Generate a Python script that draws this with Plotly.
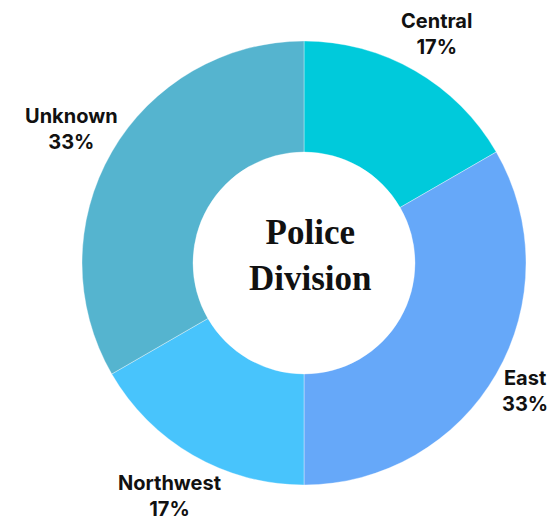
import math
import plotly.graph_objects as go

# Police division breakdown
divisions = ["Central", "East", "Northwest", "Unknown"]
counts = [1, 2, 1, 2]
colors = ["#00CADB", "#66A8F9", "#48C4FC", "#55B4CF"]

W, H = 557, 520
cx, cy, r = 304, 263, 222          # donut centre (px from top-left) and outer radius
label_size = 20
char_w, half_h, pad = 10.5, 24, 3  # rough text-box metrics for placing outside labels

fig = go.Figure(
    go.Pie(
        labels=divisions,
        values=counts,
        sort=False,
        direction="clockwise",
        rotation=0,
        hole=0.5,
        marker=dict(colors=colors, line=dict(color="rgba(255,255,255,0.35)", width=1)),
        textinfo="none",
        showlegend=False,
        hoverinfo="label+percent",
        domain=dict(
            x=[(cx - r) / W, (cx + r) / W],
            y=[(H - cy - r) / H, (H - cy + r) / H],
        ),
    )
)

# Outside labels placed along each slice's mid-angle
total = sum(counts)
start = 0.0
for name, c in zip(divisions, counts):
    frac = c / total
    mid = (start + frac / 2) * 2 * math.pi
    start += frac
    pct = f"{round(frac * 100)}%"
    hw = char_w * max(len(name), len(pct)) / 2
    s, co = math.sin(mid), math.cos(mid)
    d = r + pad + abs(s) * hw + abs(co) * half_h
    fig.add_annotation(
        x=(cx + d * s) / W, y=(H - cy + d * co) / H,
        xref="paper", yref="paper", showarrow=False,
        text=f"<b>{name}<br>{pct}</b>", align="center",
        xanchor="center", yanchor="middle", borderpad=0,
        font=dict(family="Inter", size=label_size, color="#111111"),
    )

fig.add_annotation(
    x=310 / W, y=(H - 255) / H, xref="paper", yref="paper",
    text="<b>Police<br>Division</b>", showarrow=False,
    font=dict(family="Liberation Serif", size=35, color="#111111"),
    align="center",
)

fig.update_layout(
    width=W, height=H,
    margin=dict(l=0, r=0, t=0, b=0),
    paper_bgcolor="white", plot_bgcolor="white",
)

fig.write_html("out.html")
